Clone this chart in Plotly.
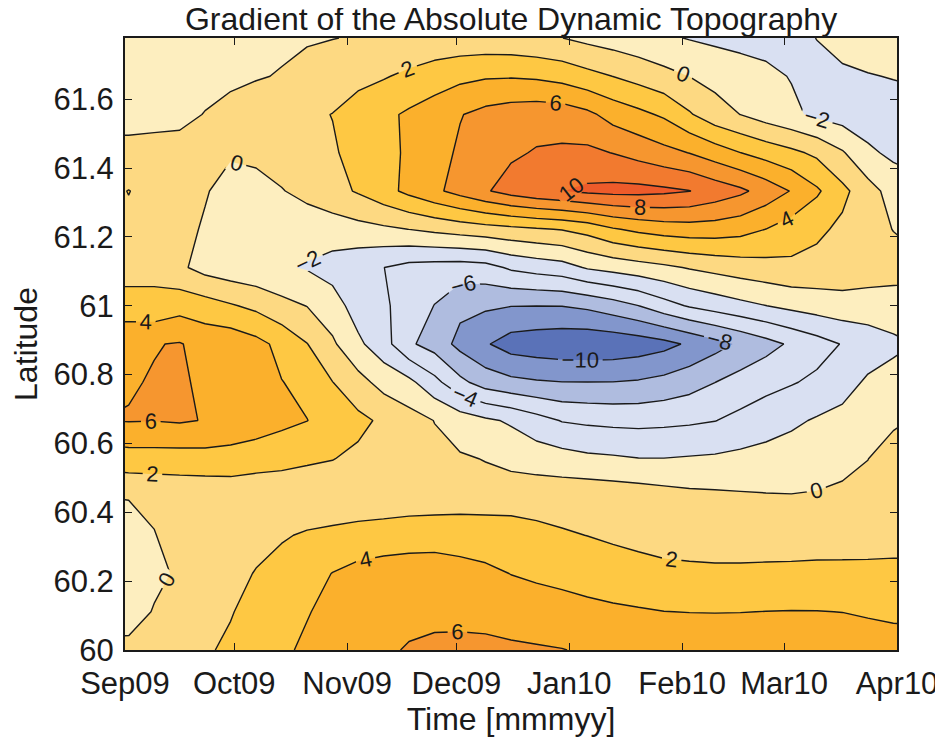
import plotly.graph_objects as go

# weekly time nodes (AVISO-style Wednesday maps) and latitude nodes (1/9 degree)
fechas = ['2009-08-26', '2009-09-02', '2009-09-09', '2009-09-16', '2009-09-23', '2009-09-30',
          '2009-10-07', '2009-10-14', '2009-10-21', '2009-10-28', '2009-11-04', '2009-11-11',
          '2009-11-18', '2009-11-25', '2009-12-02', '2009-12-09', '2009-12-16', '2009-12-23',
          '2009-12-30', '2010-01-06', '2010-01-13', '2010-01-20', '2010-01-27', '2010-02-03',
          '2010-02-10', '2010-02-17', '2010-02-24', '2010-03-03', '2010-03-10', '2010-03-17',
          '2010-03-24', '2010-03-31', '2010-04-07']

latitudes = [60.0, 60.1111, 60.2222, 60.3333, 60.4444, 60.5556, 60.6667, 60.7778, 60.8889,
             61.0, 61.1111, 61.2222, 61.3333, 61.4444, 61.5556, 61.6667, 61.7778]

# gradient of ADT, one row per latitude (south to north), one value per week
gradiente = [
    [0.5, 0.6, 1.0, 1.4, 1.8, 2.3, 3.0, 3.7, 4.3, 4.8, 5.2, 5.6, 6.2, 6.6, 6.8, 6.8, 6.5, 6.25, 6.05, 5.8, 5.6, 5.45, 5.35, 5.3, 5.3, 5.3, 5.25, 5.2, 5.15, 5.1, 4.75, 4.7, 4.7],
    [-0.9, -1.0, 0.14, 0.85, 1.3, 1.9, 2.6, 3.3, 3.9, 4.5, 5.0, 5.4, 5.3, 5.29, 5.13, 4.9, 4.58, 4.6, 4.83, 4.63, 4.31, 4.18, 4.02, 3.97, 3.95, 3.97, 4.02, 4.05, 4.04, 3.98, 3.85, 3.7, 3.6],
    [-1.6, -1.3, -0.5, 0.3, 0.9, 1.4, 2.1, 2.7, 3.2, 4.05, 4.79, 5.19, 5.24, 5.15, 4.6, 4.23, 3.98, 3.8, 3.4, 3.0, 2.95, 2.66, 2.45, 2.38, 2.34, 2.36, 2.43, 2.49, 2.57, 2.56, 2.53, 2.47, 2.4],
    [-1.2, -1.0, -0.05, 0.5, 0.7, 1.0, 1.4, 1.81, 2.22, 2.41, 2.4, 2.6, 2.9, 3.07, 3.24, 3.41, 3.04, 2.45, 2.16, 1.98, 1.7, 1.5, 1.3, 1.2, 1.1, 1.05, 1.0, 0.95, 0.95, 1.0, 1.1, 1.3, 1.35],
    [0.02, 0.09, 0.26, 0.47, 0.47, 0.67, 0.43, 0.66, 0.6, 0.8, 1.3, 1.2, 1.1, 1.05, 0.99, 0.75, 1.0, 1.27, 1.32, 1.4, 1.26, 1.1, 0.8, 0.52, 0.4, 0.26, 0.15, 0.1, 0.16, 0.36, 0.5, 1.0, 1.05],
    [2.9, 3.12, 3.16, 3.14, 3.25, 3.16, 2.95, 2.6, 2.3, 2.05, 1.62, 1.2, 0.8, 0.45, 0.2, -0.07, -0.49, -0.92, -1.22, -1.58, -1.74, -1.95, -1.96, -1.83, -1.72, -1.5, -1.26, -1.1, -0.8, -0.5, -0.02, 0.75, 0.95],
    [6.01, 6.1, 6.05, 6.2, 5.92, 5.5, 5.0, 4.5, 4.03, 3.26, 2.47, 1.66, 0.79, -0.04, -0.94, -1.66, -2.27, -3.25, -4.1, -4.35, -4.5, -4.55, -4.45, -4.3, -4.05, -3.5, -2.95, -2.35, -1.81, -1.4, -0.87, -0.27, 0.2],
    [5.75, 5.85, 6.12, 6.3, 5.6, 5.05, 4.5, 4.05, 3.5, 2.03, 0.7, -0.7, -1.5, -3.4, -5.5, -6.9, -7.5, -7.8, -7.97, -7.98, -7.97, -7.8, -7.4, -6.8, -6.02, -5.2, -4.6, -4.15, -3.6, -2.8, -1.7, -1.3, -1.0],
    [5.5, 5.7, 5.91, 6.12, 5.3, 5.3, 4.6, 3.45, 2.05, 0.3, -1.6, -3.2, -5.7, -6.8, -8.6, -9.8, -10.9, -11.2, -11.4, -11.5, -11.4, -11.1, -10.6, -9.7, -8.7, -7.7, -6.7, -5.7, -4.8, -3.9, -3.1, -2.4, -1.9],
    [2.8, 2.8, 2.6, 3.24, 2.85, 2.19, 1.54, 0.6, -0.05, -1.1, -2.9, -3.75, -4.7, -6.05, -7.5, -7.7, -7.95, -7.98, -7.95, -7.6, -6.9, -6.02, -4.8, -3.8, -3.15, -2.55, -2.02, -1.5, -1.1, -0.8, -0.9, -0.9, -0.7],
    [1.2, 1.2, 1.4, 0.35, -0.7, -1.2, -1.5, -1.8, -2.15, -2.8, -3.4, -3.98, -4.6, -4.8, -4.9, -4.7, -3.7, -3.2, -2.8, -1.8, -1.3, -0.85, -0.4, 0.15, 0.6, 1.0, 1.3, 1.55, 1.35, 1.2, 1.0, 0.8, 0.5],
    [1.7, 1.6, 1.6, 1.05, -0.37, -1.0, -1.2, -1.3, -1.2, -0.95, -0.65, -0.35, 0.02, 0.45, 0.85, 1.2, 1.5, 1.8, 2.1, 2.7, 3.8, 4.45, 4.9, 5.1, 5.05, 4.7, 3.98, 3.1, 2.4, 1.6, 0.8, -0.05, -0.8],
    [1.4, 2.05, 1.35, 0.8, 0.25, -1.2, -0.5, -0.1, 0.6, 1.3, 2.2, 3.3, 4.5, 5.6, 6.7, 7.8, 8.8, 9.5, 9.95, 10.4, 10.6, 10.6, 10.4, 10.05, 9.2, 8.4, 7.2, 5.9, 4.3, 2.5, 0.8, -0.8, -1.5],
    [0.45, 0.45, 0.5, 0.5, 0.45, 0.35, 0.33, 0.9, 1.5, 1.8, 2.6, 3.4, 4.3, 5.2, 6.3, 7.2, 7.7, 8.15, 8.3, 8.4, 7.95, 7.3, 6.6, 5.95, 5.0, 4.02, 3.2, 2.45, 1.6, 0.2, -1.65, -2.4, -2.6],
    [-0.55, -0.53, -0.45, -0.35, 0.05, 0.45, 0.9, 1.3, 1.65, 2.04, 2.8, 3.55, 4.3, 5.0, 5.9, 6.6, 7.0, 7.2, 7.1, 6.45, 5.25, 4.5, 3.7, 2.2, 0.8, -0.02, -0.9, -1.6, -2.4, -2.9, -3.0, -2.9, -2.8],
    [-0.9, -0.85, -0.75, -0.6, -0.45, -0.3, -0.12, 0.1, 0.5, 1.0, 1.5, 1.85, 2.4, 3.0, 3.5, 3.8, 3.85, 3.7, 3.3, 2.6, 1.98, 1.3, 0.6, -0.02, -0.6, -1.1, -1.55, -2.1, -2.5, -2.4, -2.1, -1.91, -1.7],
    [-1.0, -1.0, -0.95, -0.9, -0.8, -0.6, -0.45, -0.3, -0.15, -0.04, 0.12, 0.3, 0.45, 0.6, 0.65, 0.65, 0.55, 0.3, 0.02, -0.5, -0.9, -1.3, -1.7, -2.1, -2.4, -2.6, -2.7, -2.5, -1.97, -1.2, -1.0, -1.0, -0.9],
]

# one colour per band: below -12, [-12,-10], ..., [10,12], above 12
colores_banda = ['#5a72b8', '#5a72b8', '#8296cc', '#afbcdf', '#d9e0f2', '#d9e0f2', '#fdeebf',
                 '#fdd982', '#fec843', '#fbb02c', '#f6962f', '#f27a2f', '#ee5b2a', '#ee5b2a']

meses_val = ['2009-09-01', '2009-10-01', '2009-11-01', '2009-12-01', '2010-01-01',
             '2010-02-01', '2010-03-01', '2010-04-01']
meses_txt = ['Sep09', 'Oct09', 'Nov09', 'Dec09', 'Jan10', 'Feb10', 'Mar10', 'Apr10']
lat_val = [60, 60.2, 60.4, 60.6, 60.8, 61, 61.2, 61.4, 61.6]
lat_txt = ['60', '60.2', '60.4', '60.6', '60.8', '61', '61.2', '61.4', '61.6']

# step colorscale: band k is sampled at k/13 by plotly's contour fill
n = len(colores_banda) - 1
escala = []
for k, c in enumerate(colores_banda):
    a = max(0.0, (k - 0.5) / n)
    b = min(1.0, (k + 0.5) / n)
    escala.append([a, c])
    escala.append([b, c])

tinta = '#1a1a1a'
fuente = 'Liberation Sans, Arial, Helvetica, sans-serif'

fig = go.Figure()
fig.add_trace(go.Contour(x=fechas, y=latitudes, z=gradiente,
                         contours=dict(start=-12, end=12, size=2, coloring='fill',
                                       showlabels=True,
                                       labelfont=dict(family=fuente, size=22, color=tinta)),
                         line=dict(color=tinta, width=1.4, smoothing=0),
                         colorscale=escala, zmin=-13, zmax=13, showscale=False,
                         hoverinfo='skip'))

# the page body adds an 8 px offset, so the figure is 8 px smaller than the window
fig.update_layout(width=935, height=732,
                  margin=dict(l=117, r=46, t=30, b=90, autoexpand=False),
                  paper_bgcolor='white', plot_bgcolor='white',
                  font=dict(family=fuente, size=31, color=tinta),
                  title=dict(text='Gradient of the Absolute Dynamic Topography',
                             x=0.5, xref='paper', xanchor='center',
                             y=1.0, yref='container', yanchor='top',
                             font=dict(size=32)),
                  showlegend=False)

fig.update_xaxes(type='date', range=['2009-09-01', '2010-04-01'],
                 tickvals=meses_val, ticktext=meses_txt,
                 ticks='inside', ticklen=7, tickwidth=1, tickcolor=tinta,
                 showline=True, linewidth=2, linecolor=tinta, mirror='ticks',
                 showgrid=False, zeroline=False, ticklabelstandoff=5,
                 automargin=False,
                 title=dict(text='Time [mmmyy]', standoff=2, font=dict(size=32)))
fig.update_yaxes(range=[60, 61.7778], tickvals=lat_val, ticktext=lat_txt,
                 ticks='inside', ticklen=7, tickwidth=1, tickcolor=tinta,
                 showline=True, linewidth=2, linecolor=tinta, mirror='ticks',
                 showgrid=False, zeroline=False, ticklabelstandoff=3,
                 automargin=False,
                 title=dict(text='Latitude', standoff=20, font=dict(size=32)))

fig.write_html("out.html")
